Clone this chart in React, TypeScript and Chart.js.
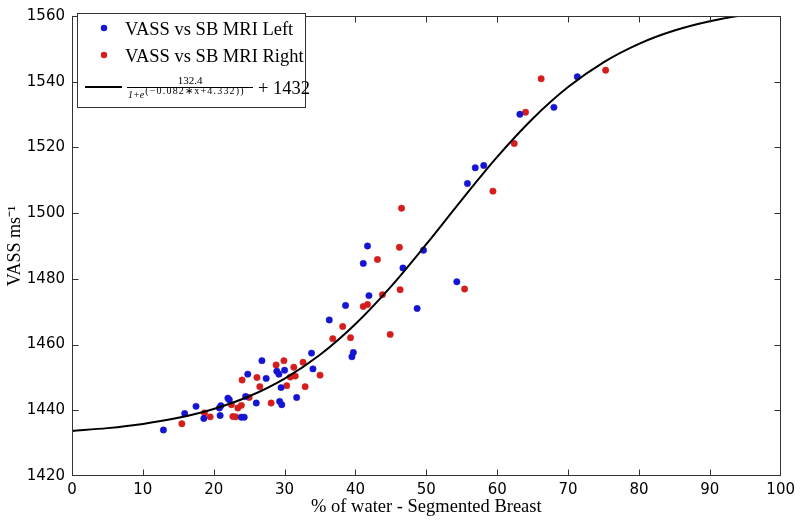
import React, { useEffect, useRef } from 'react';
import { Chart, registerables } from 'chart.js';

Chart.register(...registerables);

// ---------- data ----------
const leftX = [12.9, 15.9, 17.5, 18.6, 20.8, 21.0, 20.9, 22.0, 22.2, 23.9, 24.3, 24.5, 24.8, 26.0, 26.8, 27.4, 28.9, 29.2, 29.3, 29.6, 29.5, 30.0, 31.7, 33.8, 34.0, 36.3, 38.6, 39.5, 39.7, 41.1, 41.7, 41.9, 46.7, 48.7, 49.6, 54.3, 55.8, 56.9, 58.1, 63.2, 68.0, 71.3];
const leftY = [1434.0, 1439.0, 1441.2, 1437.5, 1440.7, 1441.4, 1438.4, 1443.7, 1443.2, 1437.9, 1437.9, 1444.2, 1451.0, 1442.2, 1455.1, 1449.7, 1451.9, 1451.0, 1442.7, 1441.7, 1446.9, 1452.2, 1443.9, 1457.4, 1452.6, 1467.5, 1471.9, 1456.3, 1457.6, 1484.7, 1490.0, 1474.9, 1483.3, 1471.0, 1488.7, 1479.1, 1509.0, 1513.8, 1514.5, 1530.1, 1532.2, 1541.5];

const rightX = [15.5, 18.7, 19.5, 22.5, 22.7, 23.1, 23.4, 23.9, 24.0, 25.0, 26.1, 26.5, 28.1, 28.8, 29.9, 30.3, 30.8, 31.3, 31.5, 32.6, 32.9, 35.0, 36.8, 38.2, 39.3, 41.1, 41.7, 43.1, 43.8, 44.9, 46.2, 46.3, 46.5, 55.4, 59.4, 62.4, 64.0, 66.2, 75.3];
const rightY = [1435.9, 1439.2, 1438.0, 1441.7, 1438.1, 1438.0, 1440.7, 1441.5, 1449.2, 1443.9, 1450.0, 1447.2, 1442.2, 1453.8, 1455.1, 1447.5, 1450.1, 1453.1, 1450.4, 1454.6, 1447.2, 1450.7, 1461.8, 1465.5, 1462.1, 1471.6, 1472.2, 1485.9, 1475.2, 1463.1, 1489.6, 1476.7, 1501.5, 1476.9, 1506.7, 1521.2, 1530.7, 1540.9, 1543.5];

const fitX = [0, 5, 10, 15, 20, 25, 30, 35, 40, 45, 50, 55, 60, 65, 70, 75, 80, 85, 90, 95, 100];
const fitY = [1433.72, 1434.57, 1435.84, 1437.70, 1440.40, 1444.26, 1449.65, 1456.91, 1466.27, 1477.65, 1490.56, 1504.07, 1517.12, 1528.74, 1538.38, 1545.91, 1551.53, 1555.57, 1558.40, 1560.36, 1561.70];

const xTicks = [0, 10, 20, 30, 40, 50, 60, 70, 80, 90, 100];
const yTicks = [1420, 1440, 1460, 1480, 1500, 1520, 1540, 1560];

const seriesLabels = ['VASS vs SB MRI Left', 'VASS vs SB MRI Right'];
const fitNumerator = '132.4';
const fitDenomBase = '1+e';
const fitExponent = '(\u22120.082\u2217x+4.332))';
const fitOffset = '+ 1432';
const xTitle = '% of water - Segmented Breast';
const yTitle = 'VASS ms\u207B\u00B9';

const BLUE = '#1414d2';
const RED = '#d41e1e';

const toPts = (xs: number[], ys: number[]) => xs.map((x, i) => ({ x, y: ys[i] }));

const boxPlugin = {
  id: 'matlabBox',
  afterDraw(chart: any) {
    const { ctx, chartArea: a, scales } = chart;
    ctx.save();
    ctx.strokeStyle = '#333';
    ctx.lineWidth = 1;
    const L = Math.round(a.left) + 0.5;
    const R = Math.round(a.right) - 0.5;
    const T = Math.round(a.top) + 0.5;
    const B = Math.round(a.bottom) - 0.5;
    ctx.strokeRect(L, T, R - L, B - T);
    const tl = 6;
    ctx.beginPath();
    xTicks.slice(1, -1).forEach((v) => {
      const px = Math.round(scales.x.getPixelForValue(v)) + 0.5;
      ctx.moveTo(px, B); ctx.lineTo(px, B - tl);
      ctx.moveTo(px, T); ctx.lineTo(px, T + tl);
    });
    yTicks.slice(1, -1).forEach((v) => {
      const py = Math.round(scales.y.getPixelForValue(v)) + 0.5;
      ctx.moveTo(L, py); ctx.lineTo(L + tl, py);
      ctx.moveTo(R, py); ctx.lineTo(R - tl, py);
    });
    ctx.stroke();

    // legend
    const lx = 77, ly = 13, lw = 228, lh = 94;
    ctx.fillStyle = '#fff';
    ctx.fillRect(lx, ly, lw, lh);
    ctx.strokeStyle = '#333';
    ctx.strokeRect(lx + 0.5, ly + 0.5, lw, lh);

    ctx.textAlign = 'left';
    ctx.textBaseline = 'alphabetic';
    [BLUE, RED].forEach((c, i) => {
      const cy = 28 + i * 27;
      ctx.fillStyle = c;
      ctx.beginPath();
      ctx.arc(104, cy, 3.2, 0, Math.PI * 2);
      ctx.fill();
      ctx.fillStyle = '#000';
      ctx.font = '18.5px "Liberation Serif"';
      ctx.fillText(seriesLabels[i], 125, cy + 7);
    });

    ctx.strokeStyle = '#000';
    ctx.lineWidth = 2;
    ctx.beginPath();
    ctx.moveTo(85, 87);
    ctx.lineTo(122, 87);
    ctx.stroke();

    ctx.fillStyle = '#000';
    ctx.font = '11px "Liberation Serif"';
    ctx.textAlign = 'center';
    ctx.fillText(fitNumerator, 190, 84);
    ctx.fillRect(127, 87, 126, 1);
    ctx.textAlign = 'left';
    ctx.font = 'italic 10px "Liberation Serif"';
    ctx.fillText(fitDenomBase, 128, 98);
    const w1 = ctx.measureText(fitDenomBase).width;
    ctx.font = '10px "Liberation Serif"';
    const w2 = ctx.measureText(fitExponent).width;
    const target = 252 - (129 + w1);
    const sp = Math.min(1.2, Math.max(0, (target - w2) / fitExponent.length));
    if ('letterSpacing' in ctx) (ctx as any).letterSpacing = sp.toFixed(2) + 'px';
    ctx.fillText(fitExponent, 129 + w1, 94);
    if ('letterSpacing' in ctx) (ctx as any).letterSpacing = '0px';
    ctx.font = '18.5px "Liberation Serif"';
    ctx.fillText(fitOffset, 258, 94);
    ctx.restore();
  },
};

export default function App() {
  const ref = useRef<HTMLCanvasElement | null>(null);
  useEffect(() => {
    if (!ref.current) return;
    const chart = new Chart(ref.current, {
      type: 'scatter',
      data: {
        datasets: [
          {
            label: seriesLabels[0],
            data: toPts(leftX, leftY),
            backgroundColor: BLUE,
            borderColor: BLUE,
            borderWidth: 0.5,
            pointRadius: 3.2,
            order: 2,
          },
          {
            label: seriesLabels[1],
            data: toPts(rightX, rightY),
            backgroundColor: RED,
            borderColor: RED,
            borderWidth: 0.5,
            pointRadius: 3.2,
            order: 2,
          },
          {
            type: 'line',
            label: 'fit',
            data: toPts(fitX, fitY),
            borderColor: '#000',
            borderWidth: 2,
            pointRadius: 0,
            showLine: true,
            fill: false,
            cubicInterpolationMode: 'monotone',
            order: 1,
          } as any,
        ],
      },
      options: {
        animation: false,
        responsive: true,
        maintainAspectRatio: false,
        devicePixelRatio: 1,
        layout: { padding: { top: 7, right: 15, left: 0, bottom: 0 } },
        plugins: { legend: { display: false }, tooltip: { enabled: false } },
        scales: {
          x: {
            type: 'linear',
            min: 0,
            max: 100,
            afterFit: (s: any) => { s.height = 46; },
            afterBuildTicks: (s: any) => { s.ticks = xTicks.map((v) => ({ value: v })); },
            ticks: {
              color: '#000',
              padding: 5,
              maxRotation: 0,
              callback: (v: any) => String(v),
              font: { family: '"DejaVu Sans"', size: 15 },
            },
            grid: { display: false, drawTicks: false },
            border: { display: false },
            title: {
              display: true,
              text: xTitle,
              color: '#000',
              font: { family: '"Liberation Serif"', size: 18.5 },
              padding: { top: 0, bottom: 4 },
            },
          },
          y: {
            type: 'linear',
            min: 1420,
            max: 1560,
            afterFit: (s: any) => { s.width = 72; },
            afterBuildTicks: (s: any) => { s.ticks = yTicks.map((v) => ({ value: v })); },
            ticks: {
              color: '#000',
              padding: 7,
              callback: (v: any) => String(v),
              font: { family: '"DejaVu Sans"', size: 15 },
            },
            grid: { display: false, drawTicks: false },
            border: { display: false },
            title: {
              display: true,
              text: yTitle,
              color: '#000',
              font: { family: '"Liberation Serif"', size: 18 },
              padding: { top: 4, bottom: 0 },
            },
          },
        },
      },
      plugins: [boxPlugin],
    });
    return () => chart.destroy();
  }, []);
  return (
    <div style={{ position: 'fixed', left: 0, top: 0, width: 800, height: 522, background: '#fff' }}>
      <canvas ref={ref} />
    </div>
  );
}
